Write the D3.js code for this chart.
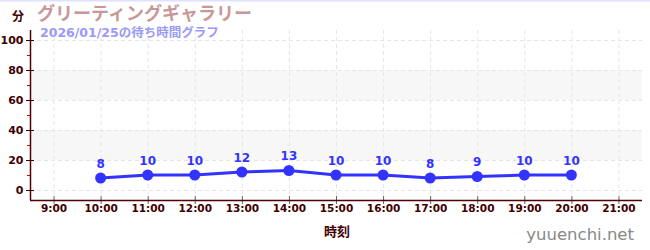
<!DOCTYPE html>
<html>
<head>
<meta charset="utf-8">
<script src="https://cdn.jsdelivr.net/npm/d3@7"></script>
<style>
  body { margin: 0; background: #fff; }
  svg { display: block; font-family: "DejaVu Sans", "Noto Sans CJK JP", sans-serif; }
</style>
</head>
<body>
<div id="chart"></div>
<script>
// data
let hours = [10, 11, 12, 13, 14, 15, 16, 17, 18, 19, 20];
let waits = [8, 10, 10, 12, 13, 10, 10, 8, 9, 10, 10];
let xTicks = [9, 10, 11, 12, 13, 14, 15, 16, 17, 18, 19, 20, 21];
let yTicks = [0, 20, 40, 60, 80, 100];
let bands = [[20, 40], [60, 80]];
let title = "グリーティングギャラリー";
let subtitle = "2026/01/25の待ち時間グラフ";

let width = 650, height = 250;
let pLeft = 30, pRight = 642, pTop = 30, pBottom = 200;

let svg = d3.select('#chart').append('svg')
  .attr('width', width)
  .attr('height', height)

let x = d3.scaleLinear().domain([8.5, 21.5]).range([pLeft, pRight]);
let y = d3.scaleLinear().domain([-6.67, 106.67]).range([pBottom, pTop]);

// top border line
svg.append('line')
  .attr('x1', 0).attr('x2', width).attr('y1', 0.5).attr('y2', 0.5)
  .attr('stroke', '#e0e0ff').attr('stroke-width', 2)

// gray bands
svg.selectAll('.band')
  .data(bands)
  .enter()
  .append('rect').classed('band', true)
  .attr('x', pLeft)
  .attr('width', pRight - pLeft)
  .attr('y', d => y(d[1]))
  .attr('height', d => y(d[0]) - y(d[1]))
  .attr('fill', '#f7f7f7')

// grid
svg.selectAll('.hgrid')
  .data(yTicks)
  .enter()
  .append('line').classed('hgrid', true)
  .attr('x1', pLeft).attr('x2', pRight)
  .attr('y1', d => y(d) + 0.5).attr('y2', d => y(d) + 0.5)
  .attr('stroke', '#e6e6e6').attr('stroke-dasharray', '4,3')

svg.selectAll('.vgrid')
  .data(xTicks)
  .enter()
  .append('line').classed('vgrid', true)
  .attr('x1', d => x(d) + 0.5).attr('x2', d => x(d) + 0.5)
  .attr('y1', pTop).attr('y2', pBottom)
  .attr('stroke', '#e6e6e6').attr('stroke-dasharray', '4,3')

// y axis
let yAxis = svg.append('g')
  .attr('transform', 'translate(' + (pLeft + 0.5) + ',0)')
  .call(d3.axisLeft(y).tickValues(yTicks).tickSize(0).tickPadding(7))
yAxis.select('.domain').remove()
yAxis.selectAll('text')
  .attr('fill', '#400000').style('font-size', '11px').style('font-weight', 'bold')
  .style('font-family', '"DejaVu Sans", sans-serif')

// minor red ticks
svg.selectAll('.minor')
  .data([10, 30, 50, 70, 90])
  .enter()
  .append('line').classed('minor', true)
  .attr('x1', pLeft - 3).attr('x2', pLeft)
  .attr('y1', d => y(d) + 0.5).attr('y2', d => y(d) + 0.5)
  .attr('stroke', '#dd0000')

// major y ticks
svg.selectAll('.ymajor')
  .data(yTicks)
  .enter()
  .append('line').classed('ymajor', true)
  .attr('x1', pLeft - 4).attr('x2', pLeft + 4)
  .attr('y1', d => y(d) + 0.5).attr('y2', d => y(d) + 0.5)
  .attr('stroke', '#400000')

svg.append('line')
  .attr('x1', pLeft + 0.5).attr('x2', pLeft + 0.5)
  .attr('y1', pTop).attr('y2', pBottom)
  .attr('stroke', '#500000').attr('stroke-width', 1.5)

// x axis
let xAxis = svg.append('g')
  .attr('transform', 'translate(0,' + pBottom + ')')
  .call(d3.axisBottom(x).tickValues(xTicks).tickSize(0).tickPadding(5)
    .tickFormat(d => d + ':00'))
xAxis.select('.domain').remove()
xAxis.selectAll('text')
  .attr('fill', '#400000').style('font-size', '10.5px').style('font-weight', 'bold')
  .style('font-family', '"DejaVu Sans", sans-serif')

svg.selectAll('.xmajor')
  .data(xTicks)
  .enter()
  .append('line').classed('xmajor', true)
  .attr('x1', d => x(d) + 0.5).attr('x2', d => x(d) + 0.5)
  .attr('y1', pBottom - 4).attr('y2', pBottom + 4)
  .attr('stroke', '#666')

svg.append('line')
  .attr('x1', pLeft).attr('x2', pRight)
  .attr('y1', pBottom + 0.5).attr('y2', pBottom + 0.5)
  .attr('stroke', '#500000').attr('stroke-width', 1.5)

// line + points
let pts = hours.map((h, i) => [h, waits[i]]);

svg.append('path')
  .datum(pts)
  .attr('d', d3.line().x(d => x(d[0])).y(d => y(d[1])))
  .attr('fill', 'none')
  .attr('stroke', '#3333ff')
  .attr('stroke-width', 3)

svg.selectAll('.dot')
  .data(pts)
  .enter()
  .append('circle').classed('dot', true)
  .attr('cx', d => x(d[0]))
  .attr('cy', d => y(d[1]))
  .attr('r', 5.5)
  .attr('fill', '#3333ff')

svg.selectAll('.lbl')
  .data(pts)
  .enter()
  .append('text').classed('lbl', true)
  .attr('x', d => x(d[0]))
  .attr('y', d => y(d[1]) - 10)
  .attr('text-anchor', 'middle')
  .attr('fill', '#3333ff')
  .style('font-size', '12px')
  .style('font-weight', 'bold')
  .text(d => d[1])

// titles
svg.append('text')
  .attr('x', 12).attr('y', 21)
  .attr('fill', '#400000').style('font-size', '12px').style('font-weight', 'bold')
  .style('font-family', '"Noto Sans CJK JP", sans-serif')
  .text('分')

svg.append('text')
  .attr('x', 37).attr('y', 20)
  .attr('fill', '#c89898').style('font-size', '18px').style('font-weight', 'bold')
  .style('font-family', '"Noto Sans CJK JP", sans-serif')
  .text(title)

svg.append('text')
  .attr('x', 40).attr('y', 37)
  .attr('fill', '#9a9af8').style('font-size', '12.5px').style('font-weight', 'bold')
  .text(subtitle)

svg.append('text')
  .attr('x', 337).attr('y', 236)
  .attr('text-anchor', 'middle')
  .attr('fill', '#400000').style('font-size', '13px').style('font-weight', 'bold')
  .style('font-family', '"Noto Sans CJK JP", sans-serif')
  .text('時刻')

svg.append('text')
  .attr('x', 634).attr('y', 240)
  .attr('text-anchor', 'end')
  .attr('fill', '#888').style('font-size', '16.5px')
  .text('yuuenchi.net')
</script>
</body>
</html>
